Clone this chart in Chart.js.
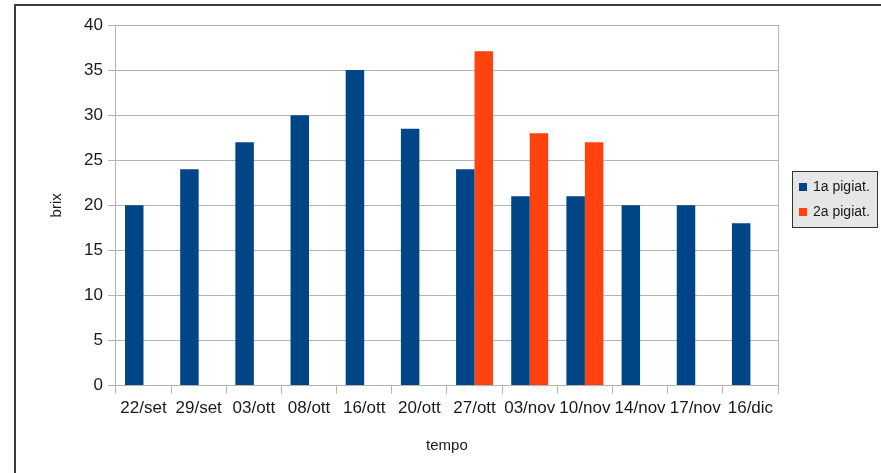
<!DOCTYPE html>
<html>
<head>
<meta charset="utf-8">
<script src="https://cdn.jsdelivr.net/npm/chart.js@4"></script>
<style>
  html, body { margin: 0; padding: 0; background: #fff; }
  #wrap { width: 881px; height: 473px; }
</style>
</head>
<body>
<div id="wrap"><canvas id="brixChart" width="881" height="473"></canvas></div>
<script>
// data
const dates = ["22/set", "29/set", "03/ott", "08/ott", "16/ott", "20/ott", "27/ott", "03/nov", "10/nov", "14/nov", "17/nov", "16/dic"];
const firstPicking = [20, 24, 27, 30, 35, 28.5, 24, 21, 21, 20, 20, 18];
const secondPicking = [null, null, null, null, null, null, 37.1, 28, 27, null, null, null];
const seriesNames = ["1a pigiat.", "2a pigiat."];
const seriesColors = ["#004586", "#ff420e"];

const font = "'Liberation Sans', Arial, sans-serif";

// frame around the whole thing, right border of plot, legend box
const decorations = {
    id: "decorations",
    beforeDraw(chart) {
        const ctx = chart.ctx;
        ctx.save();
        ctx.fillStyle = "#fff";
        ctx.fillRect(0, 0, chart.width, chart.height);
        ctx.restore();
    },
    afterDraw(chart) {
        const ctx = chart.ctx;
        const area = chart.chartArea;
        ctx.save();
        // outer frame
        ctx.strokeStyle = "#3c3c3c";
        ctx.lineWidth = 2;
        ctx.beginPath();
        ctx.moveTo(15, chart.height);
        ctx.lineTo(15, 5);
        ctx.lineTo(chart.width, 5);
        ctx.stroke();
        // right edge of plot
        ctx.strokeStyle = "#b3b3b3";
        ctx.lineWidth = 1;
        ctx.beginPath();
        ctx.moveTo(Math.round(area.right) + 0.5, area.top);
        ctx.lineTo(Math.round(area.right) + 0.5, area.bottom + 8);
        ctx.stroke();
        // legend
        const bx = 792, by = 171, bw = 85, bh = 56;
        ctx.fillStyle = "#e6e6e6";
        ctx.fillRect(bx, by, bw, bh);
        ctx.strokeStyle = "#333";
        ctx.strokeRect(bx + 0.5, by + 0.5, bw, bh);
        ctx.font = "14px " + font;
        ctx.textBaseline = "middle";
        chart.data.datasets.forEach((ds, i) => {
            const y = by + 16 + i * 25;
            ctx.fillStyle = ds.backgroundColor;
            ctx.fillRect(bx + 7, y - 4, 8, 8);
            ctx.fillStyle = "#1a1a1a";
            ctx.fillText(ds.label, bx + 21, y);
        });
        ctx.restore();
    }
};

new Chart(document.getElementById("brixChart"), {
    type: "bar",
    data: {
        labels: dates,
        datasets: [
            { label: seriesNames[0], data: firstPicking, backgroundColor: seriesColors[0] },
            { label: seriesNames[1], data: secondPicking, backgroundColor: seriesColors[1] }
        ]
    },
    options: {
        responsive: false,
        animation: false,
        categoryPercentage: 0.67,
        barPercentage: 1,
        layout: { padding: { left: 44, right: 103, top: 25, bottom: 14 } },
        plugins: {
            legend: { display: false },
            tooltip: { enabled: false }
        },
        scales: {
            x: {
                grid: { drawOnChartArea: false, offset: true, color: "#b3b3b3", tickLength: 8 },
                border: { color: "#b3b3b3" },
                ticks: { color: "#1a1a1a", font: { family: font, size: 17 }, maxRotation: 0, autoSkip: false, padding: 5 },
                title: { display: true, text: "tempo", color: "#1a1a1a", font: { family: font, size: 15 }, padding: { top: 13 } }
            },
            y: {
                min: 0,
                max: 40,
                ticks: { stepSize: 5, color: "#1a1a1a", font: { family: font, size: 17 }, padding: 5 },
                grid: { color: "#b3b3b3", tickLength: 8 },
                border: { color: "#b3b3b3" },
                title: { display: true, text: "brix", color: "#1a1a1a", font: { family: font, size: 15 }, padding: { bottom: 13 } }
            }
        }
    },
    plugins: [decorations]
});
</script>
</body>
</html>
